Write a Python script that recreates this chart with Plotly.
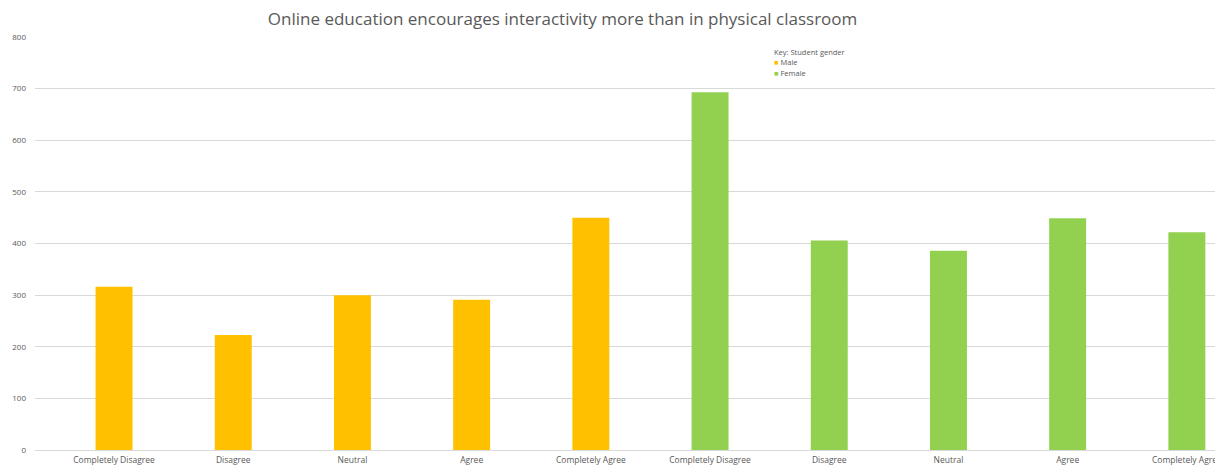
import plotly.graph_objects as go

responses = ["Completely Disagree", "Disagree", "Neutral", "Agree", "Completely Agree"]
male_values = [316, 223, 300, 291, 450]
female_values = [693, 406, 386, 449, 422]
y_ticks = [0, 100, 200, 300, 400, 500, 600, 700, 800]

MALE_COLOR = "#FFC000"
FEMALE_COLOR = "#92D050"
TEXT_COLOR = "#595959"
FONT = "Open Sans"

n = len(responses)
male_x = list(range(n))
female_x = list(range(n, 2 * n))

fig = go.Figure()
fig.add_trace(go.Bar(x=male_x, y=male_values, name="Male",
                     marker=dict(color=MALE_COLOR, line=dict(width=0)), width=0.31))
fig.add_trace(go.Bar(x=female_x, y=female_values, name="Female",
                     marker=dict(color=FEMALE_COLOR, line=dict(width=0)), width=0.31))

fig.update_layout(
    width=1215, height=465,
    margin=dict(l=35, r=0, t=37, b=15),
    paper_bgcolor="white", plot_bgcolor="white",
    barmode="overlay",
    showlegend=False,
    font=dict(family=FONT, size=8, color=TEXT_COLOR),
    title=dict(text="Online education encourages interactivity more than in physical classroom",
               x=0.463, xanchor="center", y=0.958, yanchor="middle",
               font=dict(family=FONT, size=17, color=TEXT_COLOR)),
    xaxis=dict(tickmode="array", tickvals=male_x + female_x, ticktext=responses + responses,
               range=[-0.663, 9.236], showgrid=False, zeroline=False,
               showline=True, linecolor="#d9d9d9", linewidth=1,
               ticks="", tickfont=dict(size=8.5, color=TEXT_COLOR), automargin=False,
               ticklabelstandoff=2, ticklabeloverflow="allow"),
    yaxis=dict(range=[0, 800], tickvals=y_ticks, showgrid=True, gridcolor="#d9d9d9",
               gridwidth=1, zeroline=False, showline=False, ticks="",
               tickfont=dict(size=8, color=TEXT_COLOR), automargin=False,
               ticklabelstandoff=8),
)

# Legend drawn as compact key lines (title + one line per series)
legend_lines = [
    ("Key: Student gender", 52),
    (f"<span style='color:{MALE_COLOR}'>■</span> Male", 62.5),
    (f"<span style='color:{FEMALE_COLOR}'>■</span> Female", 73),
]
for text, ypix in legend_lines:
    fig.add_annotation(text=text, xref="paper", yref="paper",
                       x=(773 - 35) / 1180, y=(465 - 15 - ypix) / 413,
                       xanchor="left", yanchor="middle", borderpad=0,
                       showarrow=False, align="left",
                       font=dict(family=FONT, size=7.5, color=TEXT_COLOR))

fig.write_html("out.html")
